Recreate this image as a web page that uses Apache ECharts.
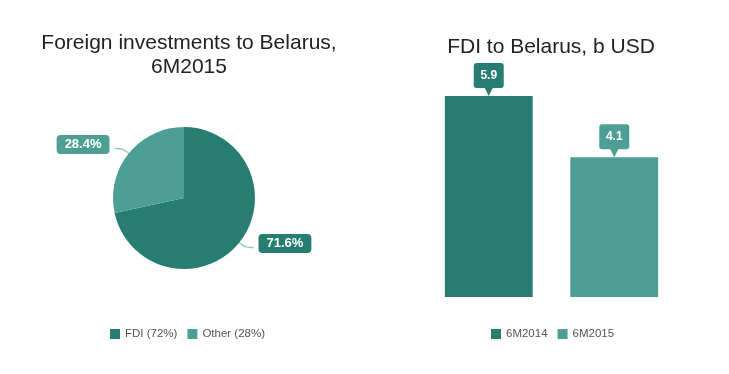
<!DOCTYPE html>
<html><head><meta charset="utf-8">
<script src="https://cdn.jsdelivr.net/npm/echarts@6/dist/echarts.min.js"></script>
<style>html,body{margin:0;padding:0;background:#fff}#c{width:729px;height:374px}</style>
</head><body><div id="c"></div>
<script>
const pieNames = ['FDI (72%)', 'Other (28%)'];
const pieValues = [71.6, 28.4];
const barCategories = ['6M2014', '6M2015'];
const barValues = [5.9, 4.1];

const dark = '#287d71', light = '#4d9f95';
const colors = [dark, light];
const font = 'Liberation Sans, Arial, sans-serif';
const pinPath = 'path://M3,0 H27 Q30,0 30,3 V22 Q30,25 27,25 H19 L15,33 L11,25 H3 Q0,25 0,22 V3 Q0,0 3,0 Z';

const pieData = pieNames.map((n, i) => ({
  name: n, value: pieValues[i],
  itemStyle: { color: colors[i] },
  label: { backgroundColor: colors[i] }
}));

const barSeries = barCategories.map((cat, i) => ({
  name: cat, type: 'bar', stack: 'b', barWidth: '70%',
  itemStyle: { color: colors[i] },
  data: barCategories.map((c, j) => j === i ? barValues[i] : '-'),
  markPoint: {
    symbol: pinPath, symbolSize: [30, 33], symbolOffset: [0, '-50%'],
    itemStyle: { color: colors[i] },
    label: { color: '#fff', fontSize: 12, fontWeight: 'bold', fontFamily: font, offset: [0, -4], formatter: p => p.value },
    data: [{ coord: [cat, barValues[i]], value: barValues[i] }]
  }
}));

const chart = echarts.init(document.getElementById('c'));
chart.setOption({
  animation: false,
  title: [
    { text: 'Foreign investments to Belarus,\n6M2015', left: 184, top: 26, textAlign: 'center',
      textStyle: { fontFamily: font, fontSize: 21, fontWeight: 'normal', color: '#222', lineHeight: 24 } },
    { text: 'FDI to Belarus, b USD', left: 546, top: 32, textAlign: 'center',
      textStyle: { fontFamily: font, fontSize: 21, fontWeight: 'normal', color: '#222' } }
  ],
  legend: [
    { data: pieNames, left: 105, top: 323, itemWidth: 10, itemHeight: 10, itemGap: 10,
      icon: 'rect', textStyle: { fontFamily: font, fontSize: 11.5, color: '#555' } },
    { data: barCategories, left: 486, top: 323, itemWidth: 10, itemHeight: 10, itemGap: 10,
      icon: 'rect', textStyle: { fontFamily: font, fontSize: 11.5, color: '#555' } }
  ],
  grid: { left: 426, right: 52, top: 92.6, bottom: 77 },
  xAxis: { type: 'category', data: barCategories, show: false },
  yAxis: { type: 'value', min: 0, max: 6, show: false },
  series: [
    {
      type: 'pie', center: [184, 198], radius: 71, startAngle: 90, clockwise: true,
      label: { show: true, position: 'outside', formatter: '{c}%', color: '#fff', fontFamily: font,
        fontSize: 13, fontWeight: 'bold', padding: [3, 8], borderRadius: 4, offset: [0, -4] },
      labelLine: { show: true, length: 8, length2: 8, smooth: true, lineStyle: { color: '#9cc9c2', width: 1.5 } },
      data: pieData
    },
    ...barSeries
  ]
});
</script></body></html>
